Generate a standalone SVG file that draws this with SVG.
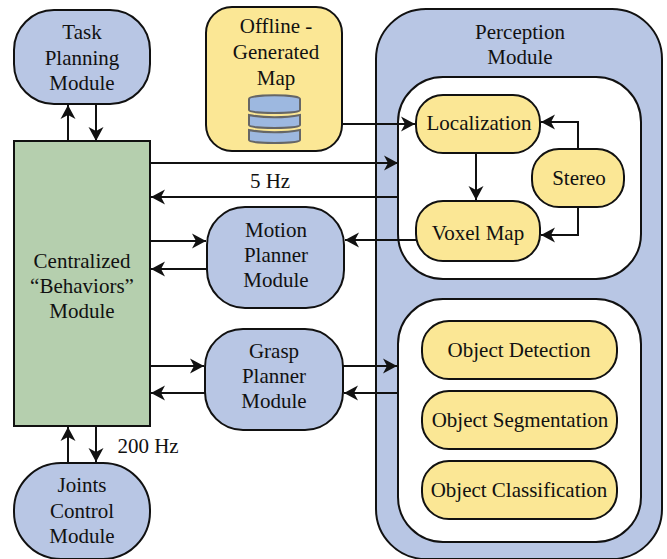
<svg xmlns="http://www.w3.org/2000/svg" width="667" height="559" viewBox="0 0 667 559">
<style>
.b{fill:#b8c6e4;stroke:#111;stroke-width:2}
.y{fill:#fbe795;stroke:#111;stroke-width:2}
.g{fill:#b5cfae;stroke:#111;stroke-width:2}
.w{fill:#fff;stroke:#111;stroke-width:2}
.c{fill:#9db8e0;stroke:#666;stroke-width:2}
text{font-family:"Liberation Serif","Times New Roman",serif;font-size:21px;fill:#111;text-anchor:middle}
.l{fill:none;stroke:#111;stroke-width:2;marker-end:url(#a)}
</style>
<defs><marker id="a" markerUnits="userSpaceOnUse" markerWidth="16" markerHeight="17" refX="14" refY="8" orient="auto"><path d="M0,0.500L14,8L0,15.500L4,8Z" fill="#111"/></marker></defs>
<g id="task"><rect class="b" x="14" y="10" width="136" height="94" rx="40"/><text x="82" y="39">Task</text><text x="82" y="65">Planning</text><text x="82" y="90">Module</text></g>
<g id="map"><rect class="y" x="206" y="7" width="136" height="144" rx="26"/><text x="276" y="33">Offline -</text><text x="276" y="59">Generated</text><text x="276" y="85">Map</text>
<path class="c" d="M249,99c0,-5 51,-5 51,0V110c0,4 -51,4 -51,0Z"/><path class="c" d="M249,115c15,3 36,3 51,0V125c0,4 -51,4 -51,0Z"/><path class="c" d="M249,130c15,3 36,3 51,0V140c0,4 -51,4 -51,0Z"/></g>
<g id="perception"><rect class="b" x="376" y="9" width="286" height="550" rx="50"/><text x="520" y="39">Perception</text><text x="520" y="64">Module</text></g>
<g id="group-top"><rect class="w" x="398" y="77" width="243" height="202" rx="45"/></g>
<g id="localization"><rect class="y" x="416" y="95" width="124" height="58" rx="27"/><text x="479" y="130">Localization</text></g>
<g id="stereo"><rect class="y" x="532" y="149" width="92" height="58" rx="27"/><text x="579" y="185">Stereo</text></g>
<g id="voxel"><rect class="y" x="416" y="201" width="124" height="60" rx="27"/><text x="478" y="240">Voxel Map</text></g>
<g id="group-bottom"><rect class="w" x="398" y="299" width="243" height="243" rx="45"/></g>
<g id="det"><rect class="y" x="422" y="321" width="195" height="58" rx="27"/><text x="519" y="357">Object Detection</text></g>
<g id="seg"><rect class="y" x="422" y="391" width="195" height="58" rx="27"/><text x="520" y="427">Object Segmentation</text></g>
<g id="cls"><rect class="y" x="422" y="461" width="195" height="58" rx="27"/><text x="519" y="497">Object Classification</text></g>
<g id="behaviors"><rect class="g" x="14" y="141" width="136" height="285"/><text x="82" y="268">Centralized</text><text x="82" y="293">“Behaviors”</text><text x="82" y="318">Module</text></g>
<g id="motion"><rect class="b" x="207" y="207" width="137" height="101" rx="38"/><text x="276" y="237">Motion</text><text x="276" y="262">Planner</text><text x="276" y="287">Module</text></g>
<g id="grasp"><rect class="b" x="205" y="329" width="138" height="101" rx="38"/><text x="274" y="358">Grasp</text><text x="274" y="383">Planner</text><text x="274" y="408">Module</text></g>
<g id="joints"><rect class="b" x="14" y="463" width="136" height="96" rx="47"/><text x="82" y="492">Joints</text><text x="82" y="518">Control</text><text x="82" y="543">Module</text></g>
<g id="connectors">
<path class="l" d="M68,141V105"/><path class="l" d="M96,104V141"/>
<path class="l" d="M68,463V427"/><path class="l" d="M96,426V462"/>
<path class="l" d="M342,124H415"/>
<path class="l" d="M150,163H398"/><path class="l" d="M398,197H151"/>
<path class="l" d="M150,241H206"/><path class="l" d="M207,269H151"/>
<path class="l" d="M416,240H345"/>
<path class="l" d="M150,366H204"/><path class="l" d="M205,393H151"/>
<path class="l" d="M343,366H397"/><path class="l" d="M398,393H344"/>
<path class="l" d="M476,153V200"/>
<path class="l" d="M578,149V122H541"/><path class="l" d="M578,207V235H541"/>
</g>
<text x="270" y="188">5 Hz</text>
<text x="148" y="453">200 Hz</text>
</svg>
